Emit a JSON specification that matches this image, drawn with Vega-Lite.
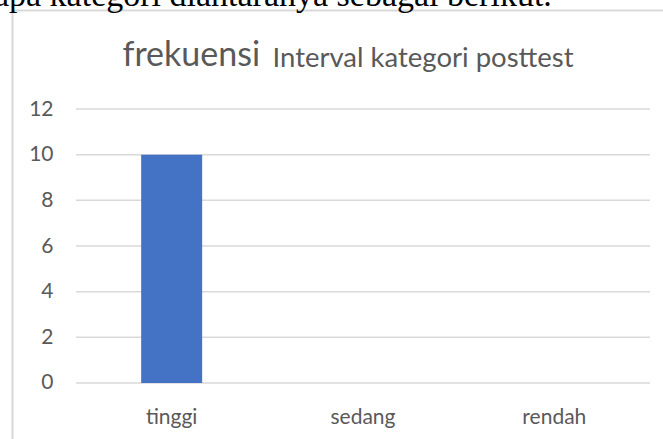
{
  "$schema": "https://vega.github.io/schema/vega-lite/v6.json",
  "autosize": {"type": "none"},
  "padding": {"left": 12, "top": 10, "right": 0, "bottom": 0},
  "width": 651,
  "height": 429,
  "background": "white",
  "config": {"view": {"stroke": null}, "font": "Lato"},
  "datasets": {
    "bars": [
      {"kategori": "tinggi", "frekuensi": 10},
      {"kategori": "sedang", "frekuensi": 0},
      {"kategori": "rendah", "frekuensi": 0}
    ],
    "grid": [
      {"nilai": 0}, {"nilai": 2}, {"nilai": 4}, {"nilai": 6},
      {"nilai": 8}, {"nilai": 10}, {"nilai": 12}
    ]
  },
  "resolve": {"axis": {"x": "independent", "y": "independent"}},
  "layer": [
    {
      "data": {"name": "grid"},
      "mark": {"type": "rule", "color": "#d9d9d9", "strokeWidth": 1.5},
      "encoding": {
        "y": {
          "field": "nilai",
          "type": "quantitative",
          "axis": {
            "orient": "right",
            "labels": false,
            "ticks": false,
            "domain": false,
            "grid": false,
            "title": "frekuensi",
            "titleFont": "Lato",
            "titleFontSize": 34,
            "titleFontWeight": "normal",
            "titleColor": "#595959",
            "titleAngle": 0,
            "titleAlign": "left",
            "titleBaseline": "alphabetic",
            "titleX": -541,
            "titleY": 55
          }
        },
        "x": {
          "datum": "tinggi",
          "type": "nominal",
          "bandPosition": 0,
          "axis": {
            "orient": "top",
            "labels": false,
            "ticks": false,
            "grid": false,
            "domain": true,
            "domainColor": "#d9d9d9",
            "domainWidth": 2,
            "title": null
          }
        },
        "x2": {"datum": "rendah", "bandPosition": 1}
      }
    },
    {
      "data": {"name": "bars"},
      "mark": {"type": "bar", "color": "#4472C4", "width": {"band": 0.3188}},
      "encoding": {
        "x": {
          "field": "kategori",
          "type": "nominal",
          "scale": {"domain": ["tinggi", "sedang", "rendah"], "paddingInner": 0, "paddingOuter": 0.2012, "align": 0.8312},
          "axis": {
            "orient": "bottom",
            "labelFont": "Lato",
            "labelFontSize": 21,
            "labelColor": "#595959",
            "labelAlign": "center",
            "labelBaseline": "alphabetic",
            "labelPadding": 0,
            "labelAngle": 0,
            "ticks": false,
            "tickSize": 0,
            "domain": false,
            "grid": false,
            "offset": -16,
            "title": "Interval kategori posttest",
            "titleFont": "Lato",
            "titleFontSize": 27.5,
            "titleFontWeight": "normal",
            "titleColor": "#595959",
            "titleAlign": "left",
            "titleBaseline": "alphabetic",
            "titleX": 260,
            "titleY": -357
          }
        },
        "y": {
          "field": "frekuensi",
          "type": "quantitative",
          "stack": null,
          "scale": {"domain": [-2.4526, 16.336], "nice": false, "zero": false},
          "axis": {
            "orient": "left",
            "values": [0, 2, 4, 6, 8, 10, 12],
            "labelFont": "Lato",
            "labelFontSize": 21,
            "labelColor": "#595959",
            "labelAlign": "right",
            "labelPadding": -41,
            "ticks": false,
            "tickSize": 0,
            "domain": true,
            "domainColor": "#d9d9d9",
            "domainWidth": 2,
            "grid": false,
            "title": "berapa kategori diantaranya sebagai berikut.",
            "titleFont": "Liberation Serif",
            "titleFontSize": 34,
            "titleFontWeight": "normal",
            "titleColor": "#000000",
            "titleAngle": 0,
            "titleAlign": "left",
            "titleBaseline": "alphabetic",
            "titleX": -62,
            "titleY": -5
          }
        },
        "y2": {"datum": 0}
      }
    }
  ]
}
